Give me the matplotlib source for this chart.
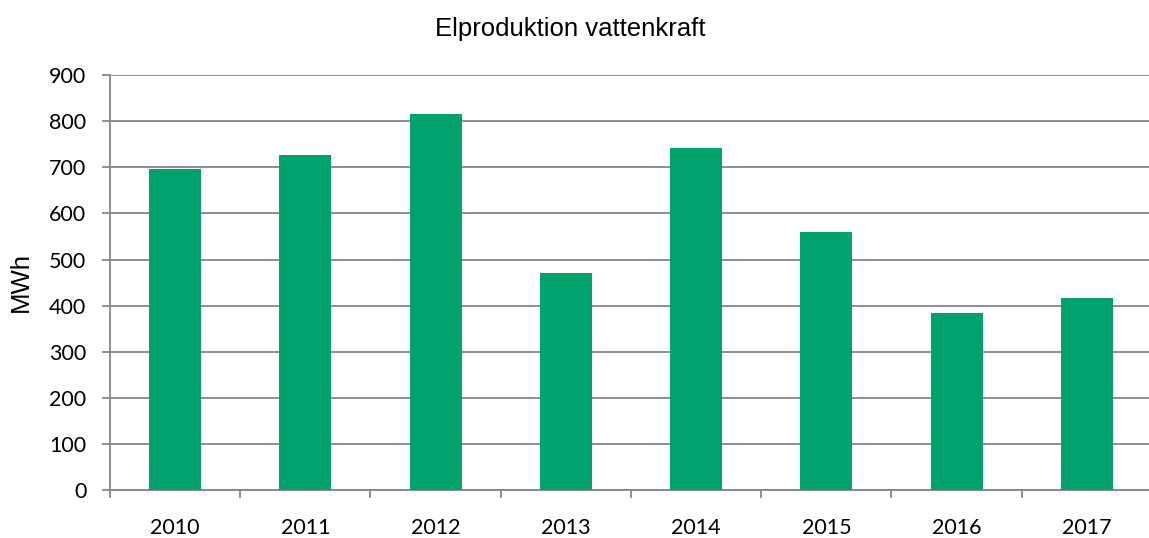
import numpy as np
import matplotlib.pyplot as plt

years = ['2010', '2011', '2012', '2013', '2014', '2015', '2016', '2017']
mwh = [696, 726, 815, 471, 742, 559, 384, 416]
y_ticks = [0, 100, 200, 300, 400, 500, 600, 700, 800, 900]

fig = plt.figure(figsize=(11.49, 5.38), dpi=100)
ax = fig.add_axes([110 / 1149, 47.7 / 538, 1 - 110 / 1149, 415.3 / 538])

x = np.arange(len(years))
ax.bar(x, mwh, width=0.4, color='#00A36E', zorder=3)

grid_col = '#868686'
ax.set_ylim(0, 900)
ax.set_xlim(-0.5, 7.5 - 3 / 130.3)
ax.set_yticks(y_ticks)
ax.set_yticklabels([str(v) for v in y_ticks], family='Lato', fontsize=15.5)
ax.set_xticks(x)
ax.set_xticklabels(years, family='Lato', fontsize=15.5)
ax.set_xticks(np.arange(-0.5, 7.5, 1.0), minor=True)
ax.yaxis.grid(True, color=grid_col, linewidth=1.3, zorder=0)

for s in ['top', 'right']:
    ax.spines[s].set_visible(False)
ax.spines['left'].set_color(grid_col)
ax.spines['bottom'].set_color(grid_col)
ax.spines['left'].set_linewidth(1.3)
ax.spines['bottom'].set_linewidth(1.3)

ax.tick_params(axis='y', length=6, width=1.3, color=grid_col, pad=11)
ax.tick_params(axis='x', which='major', length=0, pad=20)
ax.tick_params(axis='x', which='minor', length=6, width=1.3, color=grid_col)

# titel och y-etikett
fig.text(20.5 / 1149, (538 - 282) / 538, 'MWh', family='Liberation Sans',
         fontsize=18.5, rotation=90, ha='center', va='center')
fig.text(0.496, (538 - 36) / 538, 'Elproduktion vattenkraft', family='Liberation Sans',
         fontsize=18.5, ha='center', va='baseline')

fig.savefig('out.png', dpi=100)
